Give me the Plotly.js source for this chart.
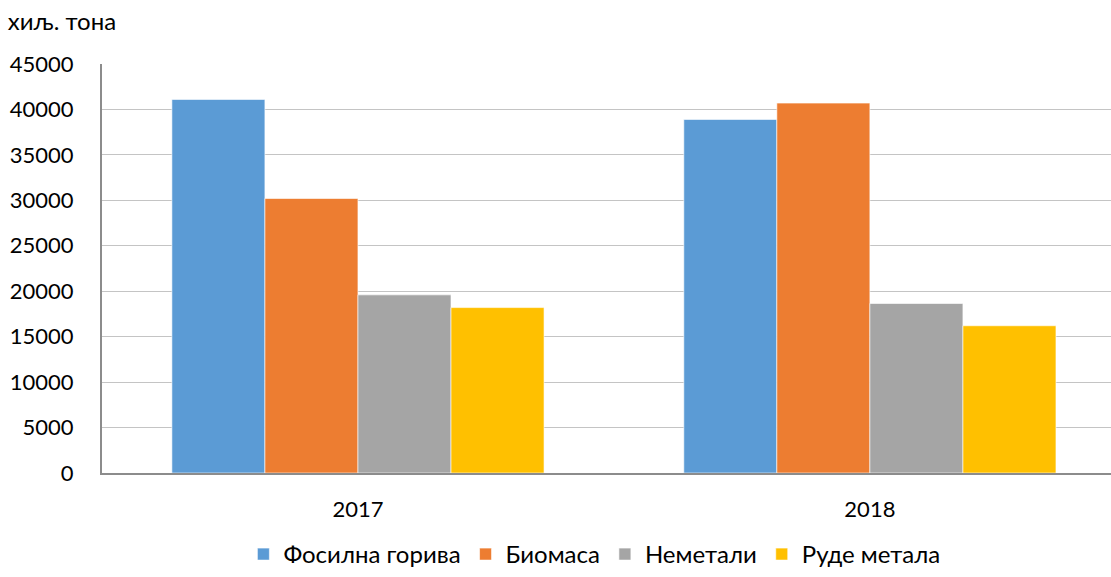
<!DOCTYPE html>
<html>
<head>
<meta charset="utf-8">
<script src="https://cdn.plot.ly/plotly-3.0.1.min.js"></script>
<style>html,body{margin:0;padding:0;background:#fff;}#chart{width:1111px;height:577px;}</style>
</head>
<body>
<div id="chart"></div>
<script>
const years = ["2017", "2018"];
const seriesNames = ["Фосилна горива", "Биомаса", "Неметали", "Руде метала"];
const fosilna = [41100, 38900];
const biomasa = [30200, 40700];
const nemetali = [19600, 18650];
const rude = [18200, 16200];
const colors = ["#5B9BD5", "#ED7D31", "#A5A5A5", "#FFC000"];
const yTicks = [0, 5000, 10000, 15000, 20000, 25000, 30000, 35000, 40000, 45000];

const values = [fosilna, biomasa, nemetali, rude];
const FONT = "Lato, 'Open Sans', sans-serif";
const traces = values.map((v, i) => ({
  type: "bar",
  name: seriesNames[i],
  x: years,
  y: v,
  marker: {color: colors[i], line: {color: "rgba(255,255,255,0.6)", width: 1}},
  hoverinfo: "x+y+name"
}));

const layout = {
  width: 1111, height: 577,
  paper_bgcolor: "#fff", plot_bgcolor: "#fff",
  margin: {l: 102, r: 0, t: 64, b: 104},
  font: {family: FONT, size: 22, color: "#000"},
  title: {text: "хиљ. тона", xref: "container", yref: "container", x: 0.007, xanchor: "left", y: 1 - 22/577, yanchor: "middle", font: {family: FONT, size: 24, color: "#000"}},
  barmode: "group",
  bargap: 0.273,
  bargroupgap: 0,
  xaxis: {
    type: "category",
    range: [-0.5, 1.471],
    showgrid: false,
    showline: true, linecolor: "#8c8c8c", linewidth: 2,
    ticks: "", ticklabelstandoff: 16,
    tickfont: {family: FONT, size: 22, color: "#000"},
    zeroline: false, fixedrange: true
  },
  yaxis: {
    range: [0, 45000],
    tickvals: yTicks,
    ticktext: yTicks.map(String),
    showgrid: true, gridcolor: "#c4c4c4", gridwidth: 1,
    showline: true, linecolor: "#8c8c8c", linewidth: 2,
    ticks: "", ticklabelstandoff: 22,
    tickfont: {family: FONT, size: 22, color: "#000"},
    zeroline: false, fixedrange: true
  },
  showlegend: true,
  legend: {
    orientation: "h",
    xref: "container", yref: "container",
    x: 0.535, xanchor: "center",
    y: 0, yanchor: "bottom",
    itemwidth: 30,
    font: {family: FONT, size: 24, color: "#000"},
    itemclick: false, itemdoubleclick: false,
    traceorder: "normal"
  }
};

Plotly.newPlot("chart", traces, layout, {displayModeBar: false, staticPlot: true});
</script>
</body>
</html>
